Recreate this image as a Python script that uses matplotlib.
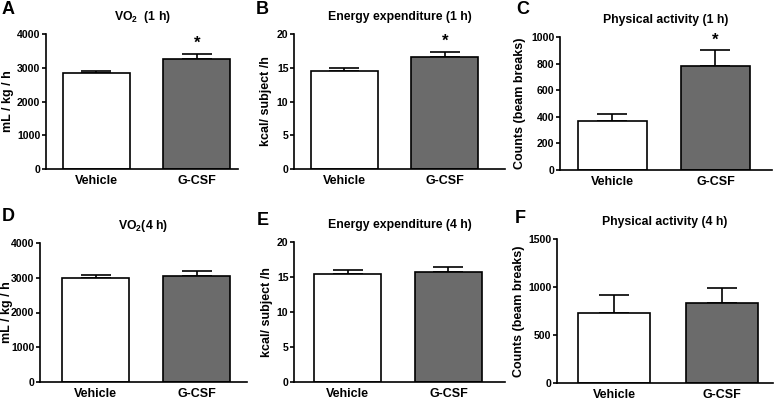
import matplotlib
matplotlib.use('Agg')
import matplotlib.pyplot as plt

plt.rcParams['font.family'] = ['Liberation Sans', 'DejaVu Sans']
plt.rcParams['font.weight'] = 'bold'
plt.rcParams['mathtext.fontset'] = 'custom'
plt.rcParams['mathtext.rm'] = 'Liberation Sans:bold'
plt.rcParams['mathtext.default'] = 'rm'

groups = ['Vehicle', 'G-CSF']

# bar means and upper SEM for each panel
vo2_1h = [2830, 3260]
vo2_1h_err = [80, 160]
ee_1h = [14.5, 16.6]
ee_1h_err = [0.5, 0.8]
pa_1h = [365, 785]
pa_1h_err = [55, 115]
vo2_4h = [2980, 3050]
vo2_4h_err = [100, 150]
ee_4h = [15.5, 15.7]
ee_4h_err = [0.55, 0.75]
pa_4h = [730, 835]
pa_4h_err = [185, 150]

panels = [
    ('A', 'VO$_2$  (1 h)', 'mL / kg / h', vo2_1h, vo2_1h_err, 4000, 1000, True),
    ('B', 'Energy expenditure (1 h)', 'kcal/ subject /h', ee_1h, ee_1h_err, 20, 5, True),
    ('C', 'Physical activity (1 h)', 'Counts (beam breaks)', pa_1h, pa_1h_err, 1000, 200, True),
    ('D', 'VO$_2$(4 h)', 'mL / kg / h', vo2_4h, vo2_4h_err, 4000, 1000, False),
    ('E', 'Energy expenditure (4 h)', 'kcal/ subject /h', ee_4h, ee_4h_err, 20, 5, False),
    ('F', 'Physical activity (4 h)', 'Counts (beam breaks)', pa_4h, pa_4h_err, 1500, 500, False),
]

# pixel boxes: left, right, top, bottom, xlim, letter position, ylabel right edge
boxes = [
    (46, 238, 34, 169, (-0.50, 1.41), (2, 1), 14),
    (294, 505, 34, 169, (-0.50, 1.60), (256, 1), 272),
    (560, 772, 37, 170, (-0.51, 1.55), (516, 1), 526),
    (40, 247, 243, 382, (-0.55, 1.50), (2, 208), 13),
    (294, 505, 242, 382, (-0.53, 1.56), (257, 212), 273),
    (557, 773, 239, 383, (-0.53, 1.47), (515, 210), 525),
]

W, H = 777, 400
fig = plt.figure(figsize=(W / 100, H / 100), dpi=100)

for (letter, title, ylabel, vals, errs, ymax, ystep, star), (l, r, t, b, xl, lp, yl) in zip(panels, boxes):
    ax = fig.add_axes([l / W, 1 - b / H, (r - l) / W, (b - t) / H])
    ax.bar([0, 1], vals, width=0.667, color=['white', '#6b6b6b'],
           edgecolor='black', linewidth=1.2, zorder=2)
    ax.errorbar([0, 1], vals, yerr=[[0, 0], errs], fmt='none', ecolor='black',
                elinewidth=1.2, capsize=11, capthick=1.2, zorder=1)
    if star:
        ax.text(1, vals[1] + errs[1] + ymax * 0.02, '*', ha='center', va='bottom',
                fontsize=12, fontweight='bold')
    ax.set_xlim(*xl)
    ax.set_ylim(0, ymax)
    ax.set_yticks(range(0, ymax + 1, ystep))
    ax.set_xticks([0, 1])
    ax.set_xticklabels(groups, fontsize=9, fontweight='bold')
    ax.tick_params(axis='x', length=0, pad=4)
    ax.tick_params(axis='y', length=3, width=1.2, labelsize=7.6, pad=1)
    for lab in ax.get_yticklabels():
        lab.set_fontweight('bold')
    for s in ['top', 'right']:
        ax.spines[s].set_visible(False)
    for s in ['left', 'bottom']:
        ax.spines[s].set_linewidth(1.2)
    ax.set_ylabel(ylabel, fontsize=9, fontweight='bold')
    ax.yaxis.set_label_coords((yl - l) / (r - l), 0.5)
    ax.set_title(title, fontsize=8.8, fontweight='bold', pad=10)
    fig.text(lp[0] / W, 1 - lp[1] / H, letter, fontsize=13, fontweight='bold',
             ha='left', va='top')

fig.savefig('out.png', dpi=100)
